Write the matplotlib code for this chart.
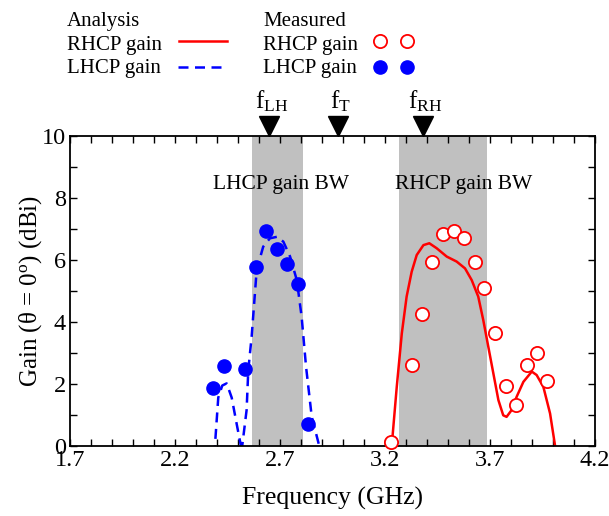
import matplotlib
matplotlib.use('Agg')
import matplotlib.pyplot as plt
from matplotlib.lines import Line2D
from matplotlib.ticker import MultipleLocator

plt.rcParams['font.family'] = ['Liberation Serif', 'DejaVu Serif']
plt.rcParams['mathtext.fontset'] = 'custom'
plt.rcParams['mathtext.rm'] = 'Liberation Serif'
plt.rcParams['mathtext.it'] = 'Liberation Serif:italic'

# analysis (simulated) curves
rh_sim_f = [3.225, 3.232, 3.256, 3.28, 3.303, 3.327, 3.351, 3.383, 3.411, 3.446, 3.494,
            3.541, 3.581, 3.613, 3.644, 3.668, 3.692, 3.716, 3.74, 3.763, 3.779, 3.803,
            3.827, 3.859, 3.899, 3.922, 3.954, 3.986, 4.01, 4.015]
rh_sim_g = [-0.3, 0.0, 1.91, 3.63, 4.82, 5.62, 6.16, 6.48, 6.54, 6.38, 6.11,
            5.95, 5.73, 5.35, 4.82, 4.06, 3.2, 2.34, 1.48, 0.99, 0.94, 1.16,
            1.59, 2.07, 2.4, 2.29, 1.91, 1.05, 0.0, -0.3]
lh_sim_f = [2.385, 2.39, 2.406, 2.425, 2.446, 2.47, 2.494, 2.514, 2.517, 2.52, 2.541,
            2.549, 2.565, 2.589, 2.62, 2.652, 2.687, 2.716, 2.748, 2.78, 2.803, 2.824,
            2.851, 2.887, 2.892]
lh_sim_g = [-0.3, 0.0, 1.56, 1.95, 2.02, 1.56, 0.7, 0.0, -0.5, 0.0, 1.16,
            2.45, 3.53, 5.68, 6.43, 6.7, 6.75, 6.59, 6.11, 5.35, 4.17, 2.56,
            0.95, 0.0, -0.3]

# measured points
rh_meas_f = [3.229, 3.327, 3.378, 3.425, 3.475, 3.529, 3.578, 3.629, 3.673, 3.724,
             3.775, 3.824, 3.875, 3.922, 3.973]
rh_meas_g = [0.14, 2.61, 4.25, 5.93, 6.84, 6.94, 6.72, 5.93, 5.10, 3.66,
             1.94, 1.32, 2.61, 3.0, 2.10]
lh_meas_f = [2.383, 2.433, 2.535, 2.586, 2.633, 2.684, 2.732, 2.784, 2.832]
lh_meas_g = [1.86, 2.58, 2.47, 5.78, 6.93, 6.35, 5.86, 5.22, 0.71]

# bandwidth regions and marked frequencies
lh_bw = (2.567, 2.81)
rh_bw = (3.267, 3.686)
mark_f = [2.648, 2.978, 3.381]
mark_lbl = [r'f$_{\mathregular{LH}}$', r'f$_{\mathregular{T}}$', r'f$_{\mathregular{RH}}$']
xticks = [1.7, 2.2, 2.7, 3.2, 3.7, 4.2]

W, H = 609, 516
fig = plt.figure(figsize=(W / 100, H / 100), dpi=100)
ax = fig.add_axes([70 / W, 1 - 446 / H, 525 / W, 310 / H])

ax.axvspan(*lh_bw, color='#c0c0c0', lw=0, zorder=0)
ax.axvspan(*rh_bw, color='#c0c0c0', lw=0, zorder=0)

dash = (0, (4, 2.6))
ax.plot(rh_sim_f, rh_sim_g, color='#ff0000', lw=1.8, zorder=2)
ax.plot(lh_sim_f, lh_sim_g, color='#0000ff', lw=1.8, ls=dash, zorder=2)
ax.plot(rh_meas_f, rh_meas_g, 'o', ms=9.5, mfc='white', mec='#ff0000', mew=1.3,
        clip_on=False, zorder=3)
ax.plot(lh_meas_f, lh_meas_g, 'o', ms=9.5, mfc='#0000ff', mec='#0000ff',
        clip_on=False, zorder=3)

ax.text(2.705, 8.45, 'LHCP gain BW', fontsize=15.5, ha='center', va='center')
ax.text(3.575, 8.45, 'RHCP gain BW', fontsize=15.5, ha='center', va='center')

for f, s in zip(mark_f, mark_lbl):
    ax.plot([f], [10.32], marker='v', ms=14.5, color='black', clip_on=False, zorder=4)
    ax.text(f + 0.01, 10.9, s, fontsize=18, ha='center', va='baseline')

ax.set_xlim(1.7, 4.2)
ax.set_ylim(0, 10)
ax.set_xticks(xticks)
ax.set_xticklabels([f'{t:.1f}' for t in xticks])
ax.xaxis.set_minor_locator(MultipleLocator(0.1))
ax.yaxis.set_major_locator(MultipleLocator(2))
ax.yaxis.set_minor_locator(MultipleLocator(1))
ax.tick_params(which='both', direction='in', top=True, right=True, length=5, width=1,
               labelsize=17.5, pad=3)
for sp in ax.spines.values():
    sp.set_linewidth(1.3)

ax.set_xlabel('Frequency (GHz)', fontsize=18.5, labelpad=11)
ax.set_ylabel(r'Gain (θ = 0$^{\mathregular{o}}$) (dBi)', fontsize=18, labelpad=-2)

# legend, laid out by hand in figure pixels
def fx(px):
    return px / W

def fy(py):
    return 1 - py / H

lfs = 15
fig.text(fx(67), fy(26), 'Analysis', fontsize=lfs, va='baseline')
fig.text(fx(67), fy(50), 'RHCP gain', fontsize=lfs, va='baseline')
fig.text(fx(67), fy(73), 'LHCP gain', fontsize=lfs, va='baseline')
fig.text(fx(263), fy(26), 'Measured', fontsize=lfs, va='baseline')
fig.text(fx(263), fy(50), 'RHCP gain', fontsize=lfs, va='baseline')
fig.text(fx(263), fy(73), 'LHCP gain', fontsize=lfs, va='baseline')
fig.add_artist(Line2D([fx(179), fx(227)], [fy(41), fy(41)], color='#ff0000', lw=1.8))
fig.add_artist(Line2D([fx(178), fx(226)], [fy(67), fy(67)], color='#0000ff', lw=1.8, ls=dash))
fig.add_artist(Line2D([fx(380), fx(407)], [fy(41), fy(41)], ls='none', marker='o', ms=9.5,
                      mfc='white', mec='#ff0000', mew=1.3))
fig.add_artist(Line2D([fx(380), fx(407)], [fy(67), fy(67)], ls='none', marker='o', ms=9.5,
                      mfc='#0000ff', mec='#0000ff'))

fig.savefig('out.png', dpi=100)
